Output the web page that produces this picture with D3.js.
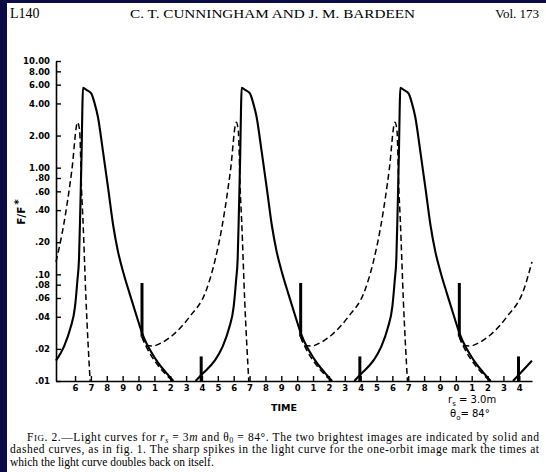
<!DOCTYPE html>
<html><head><meta charset="utf-8">
<script src="https://cdn.jsdelivr.net/npm/d3@7"></script>
<style>html,body{margin:0;padding:0;background:#0c0c44;} svg{display:block}</style>
</head><body><svg id="c" width="546" height="472"></svg>
<script>
// ---- data ----
const xTicks = [6,7,8,9,10,11,12,13,14,15,16,17,18,19,20,21,22,23,24,25,26,27,28,29,30,31,32,33,34];
const xTickLabels = ["6","7","8","9","0","1","2","3","4","5","6","7","8","9","0","1","2","3","4","5","6","7","8","9","0","1","2","3","4"];
const yTickValues = [10, 8, 6, 4, 2, 1, 0.8, 0.6, 0.4, 0.2, 0.1, 0.08, 0.06, 0.04, 0.02, 0.01];
const yTickLabels = ["10.00","8.00","6.00","4.00","2.00","1.00",".80",".60",".40",".20",".10",".08",".06",".04",".02",".01"];

// solid curve (brightest image), [time, F/F*]
const solid1 = [[4.8,.0155],[5.3,.021],[5.7,.031],[6.0,.05],[6.15,.088],[6.25,.14],[6.33,.4],[6.41,1.3],[6.46,3.5],[6.50,5.6],[6.74,5.33],[7.02,4.97],[7.23,4.03],[7.44,3.0],[7.75,1.46],[8.1,.62],[8.4,.29],[8.7,.165],[9.06,.102],[9.44,.066],[9.85,.042],[10.27,.027],[11.12,.0157],[11.75,.0119],[12.2,.0100]];
const solid2 = [[13.6,.0100],[14.06,.0118],[14.8,.0155],[15.3,.021],[15.7,.031],[16.0,.05],[16.15,.088],[16.25,.14],[16.33,.4],[16.41,1.3],[16.46,3.5],[16.50,5.6],[16.74,5.33],[17.02,4.97],[17.23,4.03],[17.44,3.0],[17.75,1.46],[18.1,.62],[18.4,.29],[18.7,.165],[19.06,.102],[19.44,.066],[19.85,.042],[20.27,.027],[21.12,.0157],[21.75,.0119],[22.2,.0100]];
const solid3 = [[23.6,.0100],[24.06,.0118],[24.8,.0155],[25.3,.021],[25.7,.031],[26.0,.05],[26.15,.088],[26.25,.14],[26.33,.4],[26.41,1.3],[26.46,3.5],[26.50,5.6],[26.74,5.33],[27.02,4.97],[27.23,4.03],[27.44,3.0],[27.75,1.46],[28.1,.62],[28.4,.29],[28.7,.165],[29.06,.102],[29.44,.066],[29.85,.042],[30.27,.027],[31.12,.0157],[31.75,.0119],[32.2,.0100]];
const solid4 = [[33.6,.0100],[34.06,.0118],[34.8,.0155]];

// dashed curve (second image)
const dashed1 = [[4.8,.131],[5.3,.30],[5.8,.95],[6.16,2.66],[6.29,2.23],[6.41,.62],[6.50,.32],[6.69,.058],[6.95,.0100]];
const dashedFork1 = [[10.22,.026],[10.49,.021],[11.12,.0147],[11.75,.0114],[12.17,.0100]];
const dashed2 = [[10.22,.026],[10.5,.0215],[10.9,.0213],[11.5,.023],[12.17,.027],[13.22,.040],[14.27,.071],[14.8,.131],[15.3,.30],[15.8,.95],[16.16,2.66],[16.29,2.23],[16.41,.62],[16.50,.32],[16.69,.058],[16.95,.0100]];
const dashedFork2 = [[20.22,.026],[20.49,.021],[21.12,.0147],[21.75,.0114],[22.17,.0100]];
const dashed3 = [[20.22,.026],[20.5,.0215],[20.9,.0213],[21.5,.023],[22.17,.027],[23.22,.040],[24.27,.071],[24.8,.131],[25.3,.30],[25.8,.95],[26.16,2.66],[26.29,2.23],[26.41,.62],[26.50,.32],[26.69,.058],[26.95,.0100]];
const dashedFork3 = [[30.22,.026],[30.49,.021],[31.12,.0147],[31.75,.0114],[32.17,.0100]];
const dashed4 = [[30.22,.026],[30.5,.0215],[30.9,.0213],[31.5,.023],[32.17,.027],[33.22,.040],[34.27,.071],[34.8,.131]];

// spikes (one-orbit image doubling back)
const spikeTimes = [10.22, 13.95, 20.22, 23.95, 30.22, 33.95];
const spikeLow   = [.026, .0100, .026, .0100, .026, .0100];
const spikeHigh  = [.083, .017, .083, .017, .083, .017];

// ---- drawing ----
const svg = d3.select("#c");
const W = 546, H = 472;
svg.append("rect").attr("x",0).attr("y",0).attr("width",W).attr("height",H).attr("fill","#0c0c44");
svg.append("rect").attr("x",7).attr("y",3).attr("width",W-7).attr("height",H-3).attr("fill","#ffffff");

const x = d3.scaleLinear().domain([4.8, 34.8]).range([56, 532]);
const y = d3.scaleLog().domain([0.01, 10]).range([381, 61]);

const serif = "'Liberation Serif','Times New Roman',serif";
const sans = "'DejaVu Sans','Liberation Sans',sans-serif";

// header
svg.append("text").attr("x",10).attr("y",18).attr("font-family",serif).attr("font-size",14).text("L140");
svg.append("text").attr("x",130).attr("y",18).attr("font-family",serif).attr("font-size",13)
  .attr("textLength",285).attr("lengthAdjust","spacingAndGlyphs").text("C. T. CUNNINGHAM AND J. M. BARDEEN");
svg.append("text").attr("x",539).attr("y",18).attr("text-anchor","end").attr("font-family",serif).attr("font-size",13).text("Vol. 173");

// axes
const yAxis = d3.axisLeft(y).tickValues(yTickValues).tickFormat((d,i)=>yTickLabels[i])
  .tickSizeInner(-5).tickSizeOuter(0).tickPadding(6);
const gy = svg.append("g").attr("transform",`translate(${x.range()[0]},0)`).call(yAxis);
const xAxis = d3.axisBottom(x).tickValues(xTicks).tickFormat((d,i)=>xTickLabels[i])
  .tickSizeInner(-5).tickSizeOuter(0).tickPadding(4);
const gx = svg.append("g").attr("transform",`translate(0,${y.range()[0]})`).call(xAxis);
[gx, gy].forEach(g=>{
  g.attr("font-family",sans).attr("font-size",8.5).attr("font-weight","bold");
  g.select(".domain").attr("stroke","#000").attr("stroke-width",1.6);
  g.selectAll(".tick line").attr("stroke","#000").attr("stroke-width",1.4);
  g.selectAll(".tick text").attr("fill","#000");
});

// axis titles
svg.append("text").attr("transform","translate(25,212) rotate(-90)").attr("text-anchor","middle")
  .attr("font-family",sans).attr("font-weight","bold").attr("font-size",10.5)
  .text("F/F").append("tspan").attr("dx",2).attr("dy",-3).text("*");
svg.append("text").attr("x",284).attr("y",411).attr("text-anchor","middle")
  .attr("font-family",sans).attr("font-weight","bold").attr("font-size",9.5).text("TIME");
const ann1 = svg.append("text").attr("x",448).attr("y",403).attr("font-family",sans).attr("font-size",10);
ann1.append("tspan").text("r");
ann1.append("tspan").attr("font-size",7).attr("dy",2.5).text("s");
ann1.append("tspan").attr("dy",-2.5).text(" = 3.0m");
const ann2 = svg.append("text").attr("x",450).attr("y",417).attr("font-family",sans).attr("font-size",10);
ann2.append("tspan").text("θ");
ann2.append("tspan").attr("font-size",7).attr("dy",2.5).text("o");
ann2.append("tspan").attr("dy",-2.5).text("= 84°");

// curves
const line = d3.line().x(d=>x(d[0])).y(d=>y(d[1])).curve(d3.curveMonotoneX);
const plot = svg.append("g");
[solid1, solid2, solid3, solid4].forEach(s=>{
  plot.append("path").attr("d",line(s)).attr("fill","none").attr("stroke","#000").attr("stroke-width",2.1);
});
[dashed1, dashedFork1, dashed2, dashedFork2, dashed3, dashedFork3, dashed4].forEach(s=>{
  plot.append("path").attr("d",line(s)).attr("fill","none").attr("stroke","#000")
    .attr("stroke-width",1.5).attr("stroke-dasharray","6,3.5");
});
spikeTimes.forEach((t,i)=>{
  plot.append("line").attr("x1",x(t)).attr("x2",x(t)).attr("y1",y(spikeLow[i])).attr("y2",y(spikeHigh[i]))
    .attr("stroke","#000").attr("stroke-width",3);
});

// caption
const cap = svg.append("g").attr("font-family",serif).attr("font-size",11.5).attr("fill","#000");
const l1 = cap.append("text").attr("x",27).attr("y",440.5).attr("textLength",512).attr("lengthAdjust","spacing");
l1.append("tspan").text("F");
l1.append("tspan").attr("font-size",9).text("IG");
l1.append("tspan").text(". 2.—Light curves for ");
l1.append("tspan").attr("font-style","italic").text("r");
l1.append("tspan").attr("font-style","italic").attr("font-size",8).attr("dy",2).text("s");
l1.append("tspan").attr("dy",-2).text(" = 3");
l1.append("tspan").attr("font-style","italic").text("m");
l1.append("tspan").text(" and θ");
l1.append("tspan").attr("font-size",8).attr("dy",2).text("0");
l1.append("tspan").attr("dy",-2).text(" = 84°. The two brightest images are indicated by solid and");
cap.append("text").attr("x",10).attr("y",453).attr("textLength",529).attr("lengthAdjust","spacing")
  .text("dashed curves, as in fig. 1. The sharp spikes in the light curve for the one-orbit image mark the times at");
cap.append("text").attr("x",10).attr("y",465.5).text("which the light curve doubles back on itself.");
</script></body></html>
